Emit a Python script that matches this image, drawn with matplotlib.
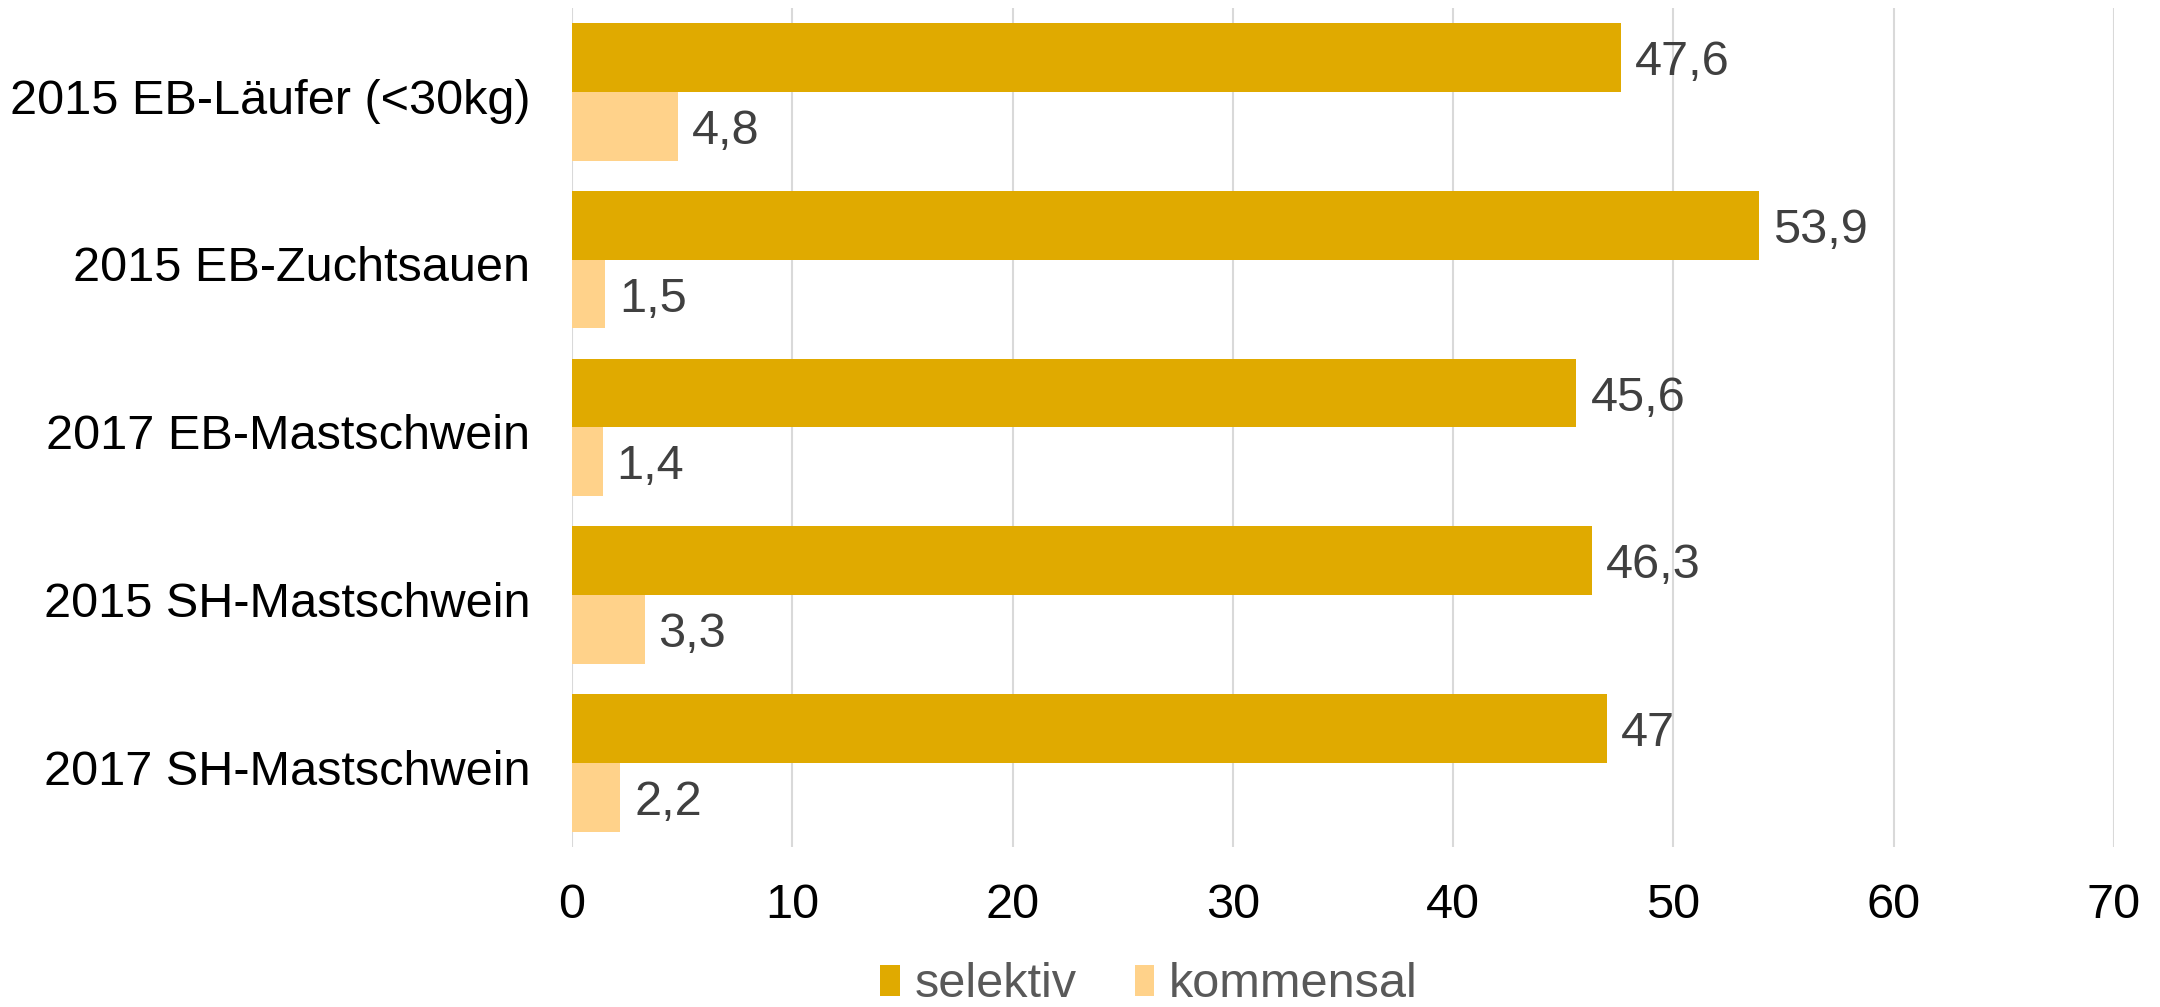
import numpy as np
import matplotlib
matplotlib.use("Agg")
import matplotlib.pyplot as plt
import matplotlib.transforms as mtransforms

plt.rcParams['font.family'] = ['Liberation Sans', 'DejaVu Sans']

categories = ["2015 EB-Läufer (<30kg)", "2015 EB-Zuchtsauen", "2017 EB-Mastschwein",
              "2015 SH-Mastschwein", "2017 SH-Mastschwein"]
selektiv = [47.6, 53.9, 45.6, 46.3, 47.0]
kommensal = [4.8, 1.5, 1.4, 3.3, 2.2]
xticks = [0, 10, 20, 30, 40, 50, 60, 70]

c_sel = '#E0AA00'
c_kom = '#FFD28A'


def fmt(v):
    s = ('%.1f' % v).rstrip('0').rstrip('.')
    return s.replace('.', ',')


fig = plt.figure(figsize=(21.6, 10.07), dpi=100)
ax = fig.add_axes([0.2648, 0.159, 0.9787 - 0.2648, 0.992 - 0.159])

y = np.arange(len(categories))
h = 0.41
b1 = ax.barh(y - h / 2, selektiv, height=h, color=c_sel, label='selektiv', zorder=3)
b2 = ax.barh(y + h / 2, kommensal, height=h, color=c_kom, label='kommensal', zorder=3)

for bars, vals in ((b1, selektiv), (b2, kommensal)):
    texts = ax.bar_label(bars, labels=[fmt(v) for v in vals], padding=10,
                         fontsize=35, color='#404040')
    for t in texts:
        t.set_va('center_baseline')

ax.set_ylim(len(categories) - 0.5, -0.5)
ax.set_xlim(0, 70)
ax.set_xticks(xticks)
ax.set_yticks(y)
ax.set_yticklabels(categories)
ax.tick_params(axis='y', length=0, pad=30, labelsize=35, labelcolor='black')
ax.tick_params(axis='x', length=0, pad=26, labelsize=35, labelcolor='black')
# nudge category labels down a little
shift = mtransforms.ScaledTranslation(0, -3 / 72, fig.dpi_scale_trans)
for lab in ax.get_yticklabels():
    lab.set_transform(lab.get_transform() + shift)
ax.grid(axis='x', color='#D9D9D9', linewidth=1.5, zorder=0)
for s in ax.spines.values():
    s.set_visible(False)

fig.legend(loc='center', bbox_to_anchor=(0.532, 0.022), ncol=2, frameon=False,
           fontsize=35, labelcolor='#595959', handlelength=0.4, handleheight=0.6,
           handletextpad=0.3, columnspacing=1.2, borderpad=0)

fig.savefig('out.png', dpi=100)
